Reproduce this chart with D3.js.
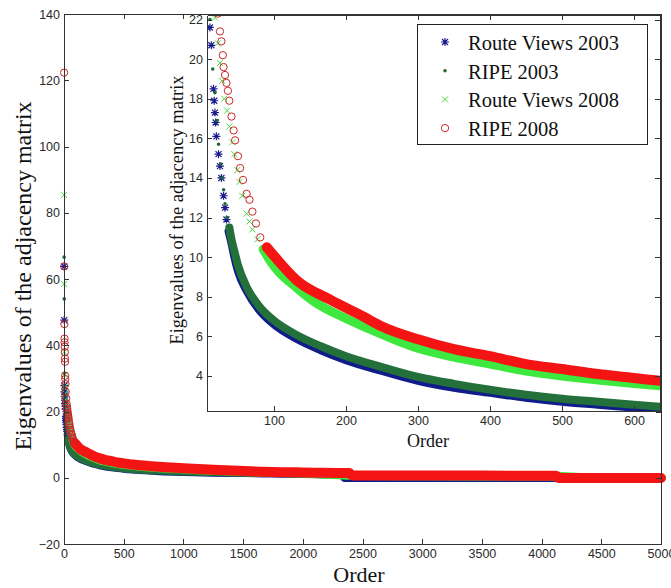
<!DOCTYPE html>
<html lang="en">
<head>
<meta charset="UTF-8">
<title>Eigenvalues of the adjacency matrix</title>
<script src="https://d3js.org/d3.v7.min.js"></script>
<style>
  body { margin: 0; background: #fff; }
  .axis path, .axis line { fill: none; stroke: #333; stroke-width: 1; shape-rendering: crispEdges; }
  .axis text { font-family: "Liberation Sans", Arial, sans-serif; font-size: 12.5px; fill: #2a2a2a; }
</style>
</head>
<body>
<svg width="671" height="588"></svg>
<script>
const seriesNames = ["Route Views 2003", "RIPE 2003", "Route Views 2008", "RIPE 2008"];

// values: eigenvalue by order, per graph
const rv03Order = [1, 2, 3, 4, 5, 7, 9, 11, 13, 16, 17, 18, 19, 20, 23, 25, 27, 30, 32, 34, 37, 41, 45, 50, 62, 80, 100, 130, 165, 200, 250, 300, 350, 400, 450, 500, 550, 600, 636, 800, 1000, 1250, 1500, 1750, 2000, 2330, 2350, 3000, 4000, 5000];
const rv03Value = [63.8, 47.6, 27.8, 25.9, 24.6, 23.4, 22.4, 21.6, 20.7, 18.5, 17.9, 17.3, 16.8, 16.1, 15.2, 14.6, 14.0, 13.1, 12.5, 11.9, 11.3, 10.7, 10.0, 9.3, 8.3, 7.3, 6.6, 5.9, 5.3, 4.8, 4.25, 3.75, 3.4, 3.15, 2.9, 2.7, 2.55, 2.4, 2.3, 1.95, 1.7, 1.5, 1.4, 1.25, 1.1, 1.0, -0.1, -0.1, -0.1, -0.1];

const ripe03Order = [1, 2, 3, 4, 6, 8, 11, 15, 18, 21, 23, 26, 28, 30, 32, 35, 38, 41, 45, 50, 62, 80, 100, 130, 165, 200, 250, 300, 350, 400, 450, 500, 550, 600, 636, 800, 1000, 1500, 2000, 2500, 3000, 3500, 4000];
const ripe03Value = [66.6, 54.0, 31.5, 27.0, 24.8, 23.3, 22.0, 19.5, 18.3, 16.9, 15.7, 14.7, 14.0, 13.4, 12.7, 12.0, 11.5, 10.9, 10.3, 9.6, 8.5, 7.5, 6.8, 6.1, 5.5, 5.0, 4.45, 3.95, 3.6, 3.3, 3.05, 2.85, 2.7, 2.55, 2.45, 2.15, 1.9, 1.5, 1.25, 0.6, 0.5, 0.4, 0.3];

const rv08Order = [1, 2, 3, 5, 7, 10, 14, 18, 22, 25, 28, 31, 35, 38, 42, 45, 49, 52, 56, 62, 66, 70, 77, 85, 95, 108, 130, 154, 200, 224, 250, 300, 350, 400, 450, 500, 550, 600, 636, 800, 1000, 1500, 2000, 2500, 3000, 3500, 4000, 4500, 5000];
const rv08Value = [85.4, 58.5, 38.0, 31.0, 27.5, 25.5, 23.6, 22.1, 20.8, 19.8, 18.9, 18.0, 17.4, 16.6, 15.8, 15.2, 14.4, 13.8, 13.1, 12.2, 11.8, 11.4, 10.9, 10.4, 9.8, 9.2, 8.5, 7.8, 6.9, 6.5, 6.1, 5.4, 4.95, 4.6, 4.25, 4.0, 3.8, 3.62, 3.5, 3.05, 2.65, 1.9, 1.45, 0.65, 0.6, 0.55, 0.5, -0.1, -0.1];

const ripe08Order = [1, 2, 3, 4, 5, 6, 7, 8, 9, 10, 11, 12, 14, 18, 22, 25, 27, 29, 30, 32, 34, 36, 38, 41, 44, 46, 50, 53, 57, 62, 66, 70, 75, 81, 90, 104, 131, 178, 224, 250, 300, 350, 400, 450, 500, 550, 600, 636, 800, 1000, 1250, 1560, 2000, 2390, 2410, 3000, 3500, 4120, 4140, 4500, 5000];
const ripe08Value = [122.3, 63.8, 46.4, 42.0, 40.9, 39.6, 37.9, 36.0, 35.0, 30.8, 29.8, 28.3, 26.0, 24.0, 22.3, 21.4, 20.9, 20.2, 19.6, 19.2, 18.8, 18.4, 17.9, 17.1, 16.4, 15.9, 15.1, 14.5, 13.9, 13.2, 12.9, 12.3, 11.7, 11.0, 10.5, 9.9, 8.85, 7.85, 7.0, 6.5, 5.85, 5.35, 5.0, 4.6, 4.35, 4.1, 3.9, 3.75, 3.3, 2.9, 2.4, 1.95, 1.6, 1.4, 0.7, 0.7, 0.65, 0.6, -0.1, -0.1, -0.1];

const mainXTicks = [0, 500, 1000, 1500, 2000, 2500, 3000, 3500, 4000, 4500, 5000];
const mainYTicks = [-20, 0, 20, 40, 60, 80, 100, 120, 140];
const insetXTicks = [100, 200, 300, 400, 500, 600];
const insetYTicks = [4, 6, 8, 10, 12, 14, 16, 18, 20, 22];

const serif = "'Liberation Serif', 'Times New Roman', serif";

const series = [
  {name: seriesNames[0], order: rv03Order, value: rv03Value, marker: "star", color: "#1c1c8e", band: "#101c8a", bandWidth: 8, bandFrom: 37},
  {name: seriesNames[1], order: ripe03Order, value: ripe03Value, marker: "dot", color: "#1d6b33", band: "#23703a", bandWidth: 8, bandFrom: 38},
  {name: seriesNames[2], order: rv08Order, value: rv08Value, marker: "x", color: "#44dd44", band: "#3ee83e", bandWidth: 9, bandFrom: 85},
  {name: seriesNames[3], order: ripe08Order, value: ripe08Value, marker: "circle", color: "#c82828", band: "#f41414", bandWidth: 10, bandFrom: 90}
];

const svg = d3.select("svg");

const mx = d3.scaleLinear().domain([0, 5000]).range([64, 661]);
const my = d3.scaleLinear().domain([-20, 140]).range([544, 14]);
const ix = d3.scaleLinear().domain([7, 636]).range([207, 660]);
const iy = d3.scaleLinear().domain([2.23, 22.23]).range([411, 15]);
const fmt = d3.format("d");

function markerPath(type) {
  if (type === "star") return "M-4,0L4,0M0,-4L0,4M-3,-3L3,3M-3,3L3,-3";
  if (type === "x") return "M-3,-3L3,3M-3,3L3,-3";
  if (type === "circle") return d3.symbol(d3.symbolCircle, 42)();
  return d3.symbol(d3.symbolCircle, 10)();
}

function styleMarker(sel, s) {
  if (s.marker === "dot") sel.attr("fill", s.color).attr("stroke", "none");
  else sel.attr("fill", "none").attr("stroke", s.color).attr("stroke-width", s.marker === "star" ? 1.2 : 1);
}

function drawSeries(g, s, x, y) {
  const pts = s.order.map((o, i) => ({o: o, v: s.value[i]}));
  const band = pts.filter(p => p.o >= s.bandFrom);
  const head = pts.filter(p => p.o < s.bandFrom);
  g.append("path")
    .datum(band)
    .attr("d", d3.line().x(p => x(p.o)).y(p => y(p.v)).curve(d3.curveMonotoneX))
    .attr("fill", "none")
    .attr("stroke", s.band)
    .attr("stroke-width", s.bandWidth)
    .attr("stroke-linecap", "round")
    .attr("stroke-linejoin", "round");
  g.selectAll(null)
    .data(head)
    .join("path")
    .attr("transform", p => `translate(${x(p.o)},${y(p.v)})`)
    .attr("d", markerPath(s.marker))
    .call(styleMarker, s);
}

// main plot
const mainData = svg.append("g");
series.forEach(s => drawSeries(mainData, s, mx, my));

svg.append("g").attr("class", "axis").attr("transform", "translate(0,544)")
  .call(d3.axisBottom(mx).tickValues(mainXTicks).tickFormat(fmt).tickSizeInner(-5).tickSizeOuter(0).tickPadding(5));
svg.append("g").attr("class", "axis").attr("transform", "translate(0,14)")
  .call(d3.axisTop(mx).tickValues(mainXTicks).tickSizeInner(-5).tickSizeOuter(0).tickFormat(""));
svg.append("g").attr("class", "axis").attr("transform", "translate(64,0)")
  .call(d3.axisLeft(my).tickValues(mainYTicks).tickFormat(fmt).tickSizeInner(-5).tickSizeOuter(0).tickPadding(4));
svg.append("g").attr("class", "axis").attr("transform", "translate(661,0)")
  .call(d3.axisRight(my).tickValues(mainYTicks).tickSizeInner(-5).tickSizeOuter(0).tickFormat(""));

svg.append("text")
  .attr("transform", "translate(31,276) rotate(-90)")
  .attr("text-anchor", "middle").attr("font-family", serif).attr("font-size", 24).attr("fill", "#111")
  .text("Eigenvalues of the adjacency matrix");
svg.append("text")
  .attr("x", 359).attr("y", 582).attr("text-anchor", "middle")
  .attr("font-family", serif).attr("font-size", 22).attr("fill", "#111")
  .text("Order");

// inset
svg.append("rect").attr("x", 207).attr("y", 15).attr("width", 453).attr("height", 396).attr("fill", "#fff");
svg.append("clipPath").attr("id", "insetClip")
  .append("rect").attr("x", 207).attr("y", 15).attr("width", 453).attr("height", 396);
const insetData = svg.append("g").attr("clip-path", "url(#insetClip)");
series.forEach(s => drawSeries(insetData, s, ix, iy));

svg.append("g").attr("class", "axis").attr("transform", "translate(0,411)")
  .call(d3.axisBottom(ix).tickValues(insetXTicks).tickFormat(fmt).tickSizeInner(-5).tickSizeOuter(0).tickPadding(5));
svg.append("g").attr("class", "axis").attr("transform", "translate(0,15)")
  .call(d3.axisTop(ix).tickValues(insetXTicks).tickSizeInner(-5).tickSizeOuter(0).tickFormat(""));
svg.append("g").attr("class", "axis").attr("transform", "translate(207,0)")
  .call(d3.axisLeft(iy).tickValues(insetYTicks).tickFormat(fmt).tickSizeInner(-5).tickSizeOuter(0).tickPadding(4));
svg.append("g").attr("class", "axis").attr("transform", "translate(660,0)")
  .call(d3.axisRight(iy).tickValues(insetYTicks).tickSizeInner(-5).tickSizeOuter(0).tickFormat(""));

svg.append("text")
  .attr("transform", "translate(183,210) rotate(-90)")
  .attr("text-anchor", "middle").attr("font-family", serif).attr("font-size", 18.5).attr("fill", "#111")
  .text("Eigenvalues of the adjacency matrix");
svg.append("text")
  .attr("x", 428).attr("y", 447).attr("text-anchor", "middle")
  .attr("font-family", serif).attr("font-size", 18).attr("fill", "#111")
  .text("Order");

// legend
const legend = svg.append("g");
legend.append("rect").attr("x", 417).attr("y", 24).attr("width", 230).attr("height", 120)
  .attr("fill", "#fff").attr("stroke", "#222").attr("stroke-width", 1).attr("shape-rendering", "crispEdges");
const rows = legend.selectAll("g.row").data(series).join("g").attr("class", "row")
  .attr("transform", (d, i) => `translate(0,${42 + i * 28.7})`);
rows.append("path").attr("transform", "translate(445,0)")
  .attr("d", d => markerPath(d.marker))
  .each(function (d) { d3.select(this).call(styleMarker, d); });
rows.append("text")
  .attr("x", 468).attr("y", 8)
  .attr("font-family", serif).attr("font-size", 20.5).attr("fill", "#111")
  .text(d => d.name);
</script>
</body>
</html>
